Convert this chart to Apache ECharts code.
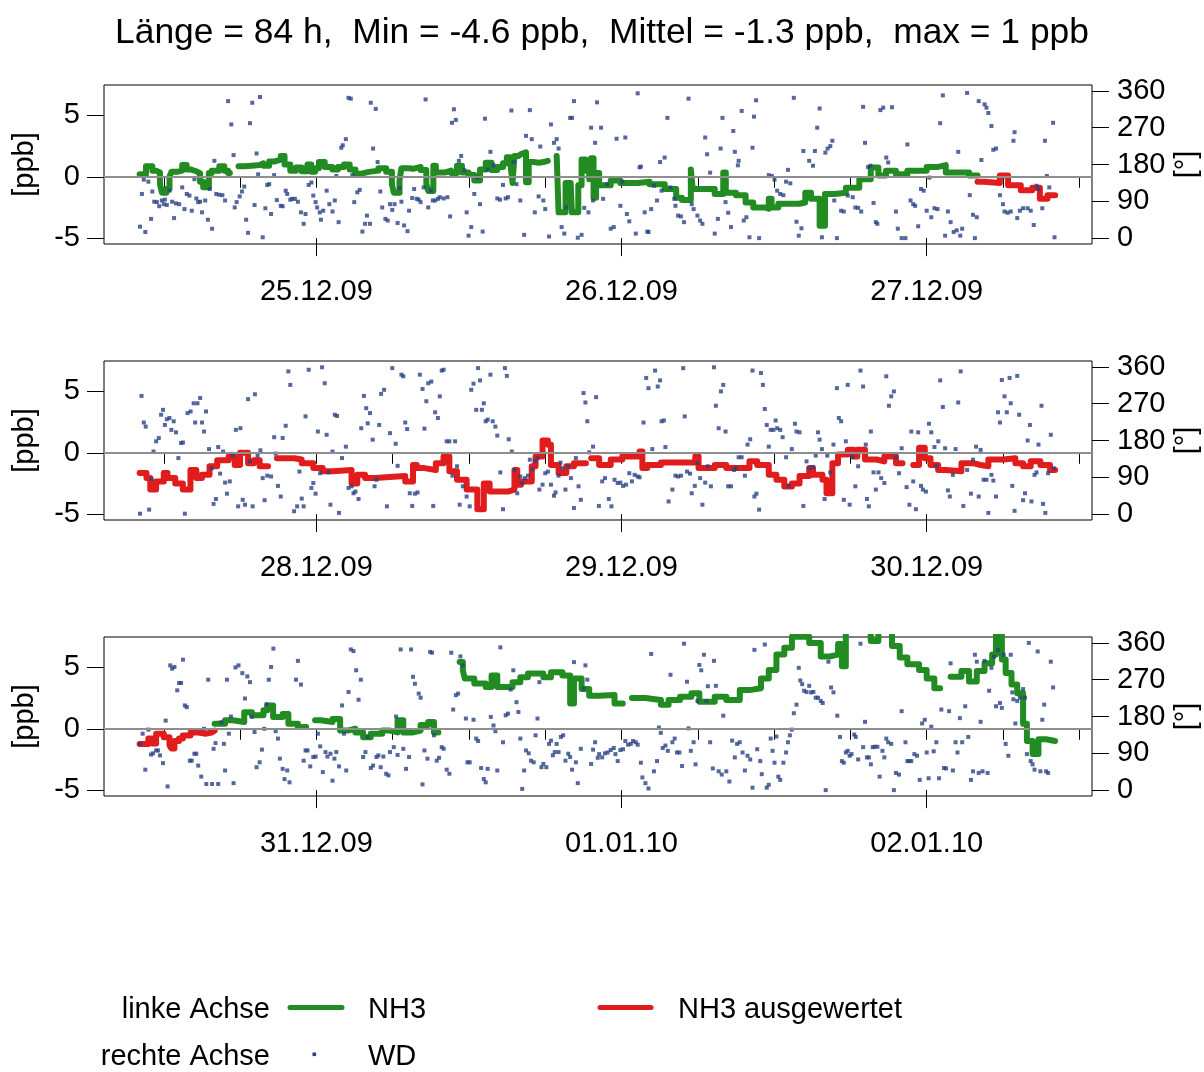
<!DOCTYPE html>
<html>
<head>
<meta charset="utf-8">
<script src="https://cdn.jsdelivr.net/npm/echarts@6/dist/echarts.min.js"></script>
<style>
html, body { margin: 0; padding: 0; background: #ffffff; }
#chart { width: 1204px; height: 1072px; }
</style>
</head>
<body>
<div id="chart"></div>
<script>
// Hours are counted from 00:00 of the first day of each panel (24.12.09, 27.12.09, 30.12.09).
const titleText = 'Länge = 84 h,  Min = -4.6 ppb,  Mittel = -1.3 ppb,  max = 1 ppb';
const hourTicks = [12, 18, 24, 30, 36, 42, 48, 54, 60, 66, 72, 78, 84];
const dayTicks = [24, 48, 72];
const dayLabels = [
  ['25.12.09', '26.12.09', '27.12.09'],
  ['28.12.09', '29.12.09', '30.12.09'],
  ['31.12.09', '01.01.10', '02.01.10']
];
const nh3Ticks = [-5, 0, 5];
const wdTicks = [0, 90, 180, 270, 360];

// Span of each panel that belongs to the evaluated NH3 record ("NH3 ausgewertet")
const evalRanges = [[76, 82.1], [10, 82.1], [10, 16]];

// NH3 [ppb] as steps: [hour, value] holds until the next entry; null starts a gap
const nh3_1 = [
  [10.1,0.2],[10.6,0.85],[11.1,0.5],[11.4,0.35],[11.7,-0.6],[11.85,-1.3],[12.2,-1.0],[12.45,0.0],[12.6,0.4],
  [13.05,0.5],[13.45,0.95],[13.8,0.6],[14.1,0.45],[14.55,0.3],[14.85,-0.4],[15.1,-0.85],[15.55,0.3],[15.77,0.5],
  [16.37,0.85],[16.76,0.5],[17.06,0.3],[17.2,null],
  [17.88,0.85],[18.33,0.9],[18.93,0.95],[19.54,1.1],[19.84,0.9],[20.29,1.25],[20.74,1.4],[21.2,1.7],[21.5,1.0],
  [21.95,0.5],[22.4,0.75],[22.85,0.45],[23.3,1.0],[23.6,0.4],[23.9,0.7],[24.2,1.2],[24.66,0.8],[25.26,0.6],
  [25.7,0.8],[26.17,1.0],[26.62,0.6],[27.07,0.25],[27.53,0.4],[28.13,0.5],[28.88,0.7],[29.49,0.4],[29.94,-0.6],
  [30.09,-1.3],[30.54,-0.3],[30.69,0.7],[31.29,0.65],[31.6,0.8],[32.2,0.55],[32.65,-0.6],[32.8,-1.15],[33.2,0.9],
  [33.4,0.35],[34.16,0.5],[34.6,0.3],[35.06,0.9],[35.45,0.35],[35.97,0.15],[36.42,-0.3],[36.87,0.6],[37.32,1.15],
  [37.78,0.55],[38.23,0.8],[38.68,1.1],[38.98,1.6],[39.28,0.9],[39.43,-0.5],[39.58,1.7],[39.89,1.85],[40.1,2.0],
  [40.49,-0.45],[40.7,1.2],[41.1,1.15],[41.5,1.2],[41.85,1.3],[42.2,null],
  [42.9,1.7],[43.05,-2.9],[43.6,-0.5],[44.0,-0.4],[44.1,-2.9],[44.6,-0.7],[44.86,1.4],[45.16,0.5],[45.46,-0.2],
  [45.6,1.5],[45.8,-1.7],[46.0,0.3],[46.24,-0.7],[47.15,-0.3],[47.9,-0.5],[49.27,-0.4],[50.2,-0.6],[51.4,-1.0],
  [52.3,-1.7],[52.75,-1.9],[53.45,0.6],[53.6,-1.0],[55.33,-1.4],[56.0,0.35],[56.2,-1.3],[57.0,-1.5],[57.76,-2.1],
  [58.36,-2.5],[59.27,-2.6],[59.58,-1.8],[59.8,-2.5],[60.33,-2.2],[61.97,-2.1],[62.45,-1.3],[62.9,-1.8],[63.58,-4.0],
  [64.0,-1.4],[64.73,-1.3],[65.64,-0.9],[66.7,-0.2],[67.6,0.75],[68.2,0.1],[68.8,0.5],[69.58,0.2],[70.48,0.5],
  [72.0,0.8],[72.9,0.95],[73.5,0.35],[75.33,0.1],[76.0,-0.4],[76.5,-0.5],[77.75,0.1],[78.4,-0.7],[79.4,-1.1],
  [80.3,-0.9],[80.9,-1.8],[81.5,-1.5],[82.1,null]
];
const nh3_2 = [
  [10.1,-1.65],[10.64,-2.05],[10.94,-3.0],[11.4,-2.35],[12.0,-1.65],[12.3,-2.05],[12.9,-2.5],[13.5,-3.0],[14.1,-1.4],
  [14.56,-2.05],[15.0,-1.8],[15.6,-1.1],[16.2,-0.6],[17.1,-0.3],[17.58,-1.0],[18.0,0.0],[18.63,-0.85],[19.08,-0.6],
  [19.54,-1.1],[20.2,null],
  [20.9,-0.45],[22.25,-0.55],[22.85,-0.85],[23.76,-1.25],[24.5,-1.5],[25.27,-1.4],[26.77,-2.5],[27.22,-1.8],
  [27.83,-2.05],[28.58,-1.9],[30.99,-2.35],[31.6,-1.0],[31.9,-1.25],[32.5,-1.4],[33.4,-0.85],[34.0,-0.3],[34.46,-1.5],
  [35.06,-2.2],[35.82,-3.0],[36.66,-4.6],[37.17,-2.5],[37.63,-3.15],[39.13,-3.0],[39.58,-1.4],[39.8,-2.6],[40.1,-2.35],
  [40.94,-1.1],[41.24,-0.3],[41.79,1.0],[42.21,0.65],[42.45,-1.0],[43.05,-1.65],[43.66,-1.1],[44.26,-0.85],[45.2,null],
  [45.61,-0.45],[46.24,-1.0],[47.15,-0.55],[48.06,-0.3],[49.42,0.1],[49.64,-1.25],[50.03,-1.0],[51.1,-0.8],[53.8,-0.3],
  [54.06,-1.25],[55.33,-1.0],[56.24,-1.25],[58.06,-0.7],[58.67,-1.0],[59.58,-1.8],[60.18,-2.2],[60.8,-2.75],[61.4,-2.5],
  [62.0,-1.9],[62.76,-1.25],[63.06,-1.8],[63.8,-2.2],[64.12,-3.3],[64.58,-0.85],[65.03,-0.15],[65.8,0.25],[66.24,-0.3],
  [66.55,0.25],[67.15,-0.55],[68.06,-0.7],[68.67,-0.3],[69.58,-0.85],[70.1,null],
  [70.94,-1.0],[71.4,0.4],[71.85,-0.45],[72.3,-1.0],[72.9,-1.4],[73.5,-1.5],[74.73,-0.85],[75.64,-1.0],[76.24,-1.1],
  [76.85,-0.55],[78.06,-0.45],[78.97,-0.85],[79.58,-1.1],[80.18,-0.7],[80.94,-1.0],[81.7,-1.4],[82.1,null]
];
const nh3_3 = [
  [10.1,-1.25],[10.79,-0.8],[11.1,-1.2],[11.4,-0.4],[12.0,-0.7],[12.45,-1.35],[12.6,-1.6],[12.84,-1.0],[13.2,-0.8],
  [13.5,-0.55],[14.1,-0.3],[14.71,-0.4],[15.32,-0.3],[15.77,-0.15],[16.0,0.4],[16.82,0.7],[17.43,0.55],[18.33,1.35],
  [18.93,1.1],[19.84,1.5],[20.14,1.9],[20.6,0.95],[21.35,1.2],[21.8,0.4],[22.55,0.15],[23.2,null],
  [23.9,0.7],[24.36,0.55],[25.27,0.8],[25.87,-0.15],[26.47,0.0],[27.07,-0.3],[27.68,-0.7],[28.28,-0.4],[29.18,-0.15],
  [29.79,-0.3],[30.39,0.7],[30.84,-0.3],[31.6,-0.15],[32.2,0.3],[32.8,0.55],[33.25,-0.3],[33.6,null],
  [35.27,5.45],[35.52,4.75],[35.67,4.1],[36.42,3.7],[37.32,3.4],[37.78,4.35],[38.23,3.4],[39.43,3.8],[40.04,4.2],
  [40.64,4.5],[41.85,4.2],[42.45,4.6],[43.35,4.35],[43.96,2.05],[44.26,4.1],[44.86,3.25],[45.46,2.7],[46.24,2.75],
  [47.45,2.05],[48.1,null],
  [48.82,2.5],[49.88,2.35],[51.1,1.95],[51.7,2.35],[52.6,2.6],[53.5,2.9],[54.12,2.2],[55.33,2.6],[56.24,2.35],
  [57.3,3.15],[58.06,3.3],[58.97,4.1],[59.58,4.8],[60.18,6.05],[60.8,6.6],[61.4,7.5],[62.76,7.0],[63.67,5.9],
  [64.42,6.05],[65.03,6.9],[65.33,5.1],[65.64,8.5],[67.6,7.15],[68.2,8.5],[69.27,6.75],[69.88,5.8],[70.48,5.25],
  [71.4,4.8],[72.0,4.1],[72.6,3.3],[73.06,null],
  [73.88,4.25],[74.73,4.7],[75.33,3.85],[75.94,4.7],[76.55,5.35],[77.15,6.05],[77.45,8.0],[77.91,5.65],[78.21,4.55],
  [78.67,3.6],[79.12,2.9],[79.58,0.4],[79.88,-1.0],[80.33,-2.05],[80.79,-0.85],[81.39,-1.0],[82.1,null]
];

// Wind direction [°]: [hour, degrees]
const wd_1 = [
  [10.13,28],[10.28,108],[10.43,143],[10.55,15],[10.79,138],[11.0,47],[11.1,114],[11.25,89],[11.46,88],[11.64,78],
  [11.85,92],[12.0,83],[12.09,94],[12.24,81],[12.45,116],[12.66,89],[12.81,49],[12.96,85],[13.21,83],[13.45,124],
  [13.63,71],[13.81,108],[14.02,104],[14.2,67],[14.41,144],[14.56,97],[14.71,88],[14.86,89],[15.01,63],[15.26,92],
  [15.47,45],[15.62,120],[15.8,23],[15.98,189],[16.13,108],[16.37,106],[16.61,105],[16.82,92],[17.06,335],[17.31,278],
  [17.49,203],[17.58,75],[17.73,88],[17.97,102],[18.15,114],[18.33,126],[18.48,45],[18.63,13],[18.78,281],[18.96,331],
  [19.14,81],[19.3,207],[19.42,156],[19.57,345],[19.78,2],[19.99,73],[20.14,130],[20.29,132],[20.44,59],[20.68,154],
  [20.89,93],[21.2,79],[21.35,78],[21.59,116],[21.71,108],[21.95,94],[22.1,96],[22.31,96],[22.55,89],[22.79,63],
  [23.0,35],[23.15,59],[23.4,130],[23.61,136],[23.76,104],[23.94,88],[24.06,75],[24.27,63],[24.36,45],[24.54,67],
  [24.81,116],[25.02,83],[25.27,65],[25.45,92],[25.57,152],[25.75,39],[25.96,221],[26.08,227],[26.32,242],[26.53,343],
  [26.71,341],[26.83,154],[26.98,88],[27.22,112],[27.41,118],[27.62,16],[27.83,35],[27.98,55],[28.22,35],[28.28,331],
  [28.46,219],[28.67,316],[28.82,186],[29.03,114],[29.18,75],[29.43,47],[29.61,43],[29.79,83],[29.97,69],[30.15,83],
  [30.39,37],[30.54,122],[30.69,89],[30.9,31],[31.17,17],[31.29,67],[31.54,98],[31.69,120],[31.9,96],[32.05,94],
  [32.2,88],[32.44,124],[32.59,339],[32.8,75],[33.01,116],[33.16,92],[33.34,92],[33.56,96],[33.71,100],[34.01,97],
  [34.31,100],[34.52,53],[34.67,282],[34.82,315],[34.97,289],[35.21,189],[35.39,201],[35.64,166],[35.82,63],[35.97,6],
  [36.18,27],[36.42,108],[36.66,148],[36.87,83],[37.08,16],[37.26,292],[37.47,167],[37.69,211],[37.93,178],[38.23,97],
  [38.44,94],[38.68,130],[38.89,97],[39.07,100],[39.34,312],[39.52,186],[39.74,132],[40.04,92],[40.34,8],[40.49,250],
  [40.79,313],[40.94,242],[41.18,63],[41.48,102],[41.61,224],[41.85,92],[42.0,71],[42.3,4],[42.45,278],[42.69,233],
  [42.9,242],[43.05,219],[43.29,27],[43.5,11],[43.66,75],[43.96,294],[44.11,294],[44.26,335],[44.56,1],[44.86,8],
  [45.07,74],[45.4,63],[45.61,270],[45.76,92],[45.92,233],[46.07,332],
  [46.39,270],[46.55,96],[46.85,132],[47.15,23],[47.39,27],[47.61,243],[47.91,79],[48.06,138],[48.3,246],[48.42,59],
  [48.61,41],[49.12,11],[49.27,354],[49.42,173],[49.52,175],[49.82,63],[50.03,16],[50.12,15],[50.33,71],[50.55,128],
  [50.79,92],[51.03,186],[51.15,116],[51.39,197],[51.61,294],[51.85,124],[52.15,96],[52.24,79],[52.45,55],[52.67,53],
  [52.91,39],[53.27,341],[53.52,83],[53.67,71],[53.97,55],[54.18,43],[54.36,35],[54.58,246],[54.73,205],[54.97,160],
  [55.33,11],[55.58,47],[55.79,219],[55.94,294],[56.18,88],[56.39,62],[56.61,27],[56.79,262],[56.91,211],[57.15,178],
  [57.21,189],[57.45,311],[57.61,43],[57.82,51],[58.06,2],[58.3,221],[58.42,297],[58.58,337],[58.82,0],[59.58,154],
  [59.82,152],[60.03,143],[60.24,116],[60.48,108],[60.73,105],[60.94,138],[61.09,167],[61.27,134],[61.55,343],[61.76,40],
  [61.94,6],[62.15,24],[62.3,213],[62.76,189],[63.06,177],[63.21,213],[63.39,270],[63.58,317],[63.76,2],[64.03,209],
  [64.21,219],[64.42,225],[64.58,238],[64.73,92],[64.94,0],[65.27,67],[65.48,65],[65.79,104],[66.18,100],[66.39,75],
  [66.61,74],[66.85,65],[67.0,321],[67.15,233],[67.39,174],[67.58,177],[67.82,86],[68.0,39],[68.12,35],[68.36,313],
  [68.58,319],[68.82,197],[68.97,185],[69.27,320],[69.58,65],[69.73,23],[70.03,0],[70.33,0],[70.48,229],[70.73,92],
  [70.94,83],[71.09,79],[71.33,29],[71.55,120],[71.76,116],[72.0,67],[72.21,148],[72.36,51],[72.61,73],[72.85,71],
  [73.06,281],[73.27,349],[73.45,6],[73.67,65],[73.88,39],[74.12,15],[74.36,19],[74.48,211],[74.64,6],[74.79,23],
  [75.18,355],[75.39,105],[75.64,57],[75.79,0],[75.94,51],[76.09,335],[76.3,191],[76.55,327],[76.7,319],[76.85,306],
  [77.09,274],[77.24,216],[77.45,219],[77.76,105],[78.0,83],[78.12,65],[78.36,62],[78.61,65],[78.82,238],[78.91,259],
  [79.12,49],[79.33,67],[79.58,73],[79.94,73],[80.18,67],[80.42,32],[80.64,128],[80.79,120],[81.09,73],[81.3,238],
  [81.45,152],[81.64,124],[81.94,282],[82.05,2]
];
const wd_2 = [
  [10.13,1],[10.25,289],[10.43,224],[10.58,214],[10.85,11],[11.04,86],[11.19,153],[11.4,178],[11.61,186],[11.79,243],
  [11.94,255],[12.09,218],[12.24,232],[12.45,235],[12.6,206],[12.78,227],[12.96,200],[13.15,137],[13.36,174],[13.51,175],
  [13.66,1],[13.87,247],[14.11,251],[14.35,271],[14.47,224],[14.65,271],[14.86,284],[15.01,224],[15.17,202],[15.32,251],
  [15.56,159],[15.77,112],[15.92,25],[16.1,37],[16.28,164],[16.43,99],[16.67,153],[16.82,77],[16.97,50],[17.19,80],
  [17.43,143],[17.67,206],[17.85,19],[18.03,210],[18.21,35],[18.39,23],[18.63,281],[18.78,129],[18.99,19],[19.17,293],
  [19.38,143],[19.6,156],[19.78,88],[19.93,34],[20.14,94],[20.44,92],[20.68,188],[20.8,148],[20.98,69],[21.2,43],
  [21.35,186],[21.59,216],[21.8,349],[21.95,316],[22.25,7],[22.49,19],[22.67,104],[22.85,38],[23.0,19],[23.15,239],
  [23.4,353],[23.61,64],[23.76,76],[23.94,50],[24.12,202],[24.3,100],[24.45,359],[24.66,320],[24.81,194],[24.96,102],
  [25.11,23],[25.27,153],[25.45,243],[25.63,240],[25.78,3],[26.02,137],[26.32,165],[26.53,64],[26.77,68],[26.92,51],
  [27.07,55],[27.32,37],[27.53,210],[27.74,289],[27.92,259],[28.04,222],[28.22,247],[28.43,182],[28.58,68],[28.73,84],
  [28.94,218],[29.09,294],[29.33,304],[29.55,19],[29.79,198],[29.97,357],[30.24,172],[30.39,118],[30.69,341],[30.84,337],
  [30.99,224],[31.14,208],[31.35,51],[31.54,20],[31.75,50],[31.96,53],[32.14,341],[32.35,306],[32.5,209],[32.65,276],
  [32.8,320],[33.04,324],[33.19,20],[33.34,249],[33.56,235],[33.71,288],[33.86,351],[34.01,353],[34.25,178],[34.46,178],
  [34.7,94],[34.91,178],[35.06,117],[35.27,23],[35.52,68],[35.82,43],[36.06,19],[36.18,304],[36.36,319],[36.57,255],
  [36.72,357],[36.87,327],[37.02,255],[37.17,271],[37.32,227],[37.47,231],[37.69,341],[37.87,227],[38.08,214],[38.23,192],
  [38.47,102],[38.68,12],[38.83,357],[38.98,338],[39.13,183],[39.37,153],[39.58,108],[39.8,51],[40.04,92],[40.19,76],
  [40.4,88],[40.64,94],[40.79,133],[41.0,110],[41.18,129],[41.39,137],[41.54,60],[41.79,72],[42.0,100],[42.21,104],
  [42.45,72],[42.69,45],[42.81,53],[43.05,94],[43.2,126],[43.35,112],[43.59,60],[43.81,117],[44.02,88],[44.26,15],
  [44.41,137],[44.62,68],[44.8,35],[45.01,296],[45.16,273],[45.31,227],[45.46,151],[45.76,165],[46.0,286],[46.22,20],
  [46.48,80],[46.7,88],[47.0,37],[47.21,19],[47.45,84],[47.7,76],[47.91,77],[48.12,69],[48.36,72],[48.61,100],
  [48.82,80],[49.03,96],[49.27,92],[49.42,90],[49.73,224],[49.94,333],[50.12,308],[50.42,159],[50.64,351],[50.85,312],
  [51.03,327],[51.15,227],[51.33,229],[51.45,164],[51.7,31],[52.0,60],[52.24,94],[52.45,92],[52.67,94],[52.85,357],
  [52.97,239],[53.15,104],[53.39,99],[53.52,51],[53.76,69],[53.97,125],[54.18,88],[54.36,23],[54.58,77],[54.79,117],
  [55.03,68],[55.27,359],[55.42,265],[55.64,210],[55.82,300],[56.0,316],[56.18,202],[56.39,68],[56.61,68],[56.85,108],
  [57.0,112],[57.21,139],[57.45,139],[57.7,94],[57.91,170],[58.12,183],[58.3,351],[58.45,43],[58.61,50],[58.82,11],
  [58.97,345],[59.12,316],[59.27,257],[59.42,218],[59.58,165],[59.73,206],[59.94,206],[60.12,229],[60.24,210],[60.48,206],
  [60.67,188],[60.94,139],[61.15,69],[61.39,159],[61.64,221],[61.76,202],[62.0,200],[62.3,20],[62.55,129],[62.76,112],
  [63.06,115],[63.27,143],[63.45,200],[63.58,182],[63.76,159],[63.97,37],[64.18,143],[64.42,102],[64.67,170],[64.94,308],
  [65.09,235],[65.27,227],[65.48,35],[65.64,178],[65.79,316],[65.94,23],[66.18,139],[66.39,68],[66.61,117],[66.79,351],
  [67.0,312],[67.21,170],[67.3,37],[67.45,19],[67.61,202],[67.82,102],[68.0,60],[68.21,102],[68.42,88],[68.67,76],
  [68.82,337],[69.03,265],[69.21,288],[69.42,300],[69.58,139],[69.82,100],[70.03,161],[70.42,66],[70.64,23],[70.79,202],
  [70.94,80],[71.15,12],[71.33,200],[71.55,69],[71.7,60],[71.94,55],[72.18,221],[72.36,200],[72.61,164],[72.76,117],
  [72.91,178],[73.06,327],[73.27,262],[73.45,161],[73.67,58],[73.82,43],[74.06,96],[74.27,159],[74.48,273],[74.67,349],
  [74.88,20],[75.18,108],[75.48,50],[75.64,133],[75.88,165],[76.09,43],[76.24,157],[76.48,84],[76.7,84],[76.85,3],
  [77.09,96],[77.24,82],[77.45,43],[77.61,249],[77.76,224],[77.91,328],[78.12,288],[78.3,249],[78.52,333],[78.61,271],
  [78.73,69],[78.91,8],[79.12,338],[79.27,243],[79.58,34],[79.73,51],[79.94,180],[80.12,218],[80.24,31],[80.48,96],
  [80.64,102],[80.79,170],[81.03,265],[81.15,25],[81.33,3],[81.55,100],[81.76,194],[82.0,112]
];
const wd_3 = [
  [10.13,113],[10.34,138],[10.55,50],[10.79,148],[11.0,87],[11.16,90],[11.4,97],[11.55,97],[11.7,85],[11.94,66],
  [12.15,170],[12.3,9],[12.51,305],[12.66,297],[12.84,301],[13.06,244],[13.21,262],[13.36,262],[13.51,319],[13.66,207],
  [13.81,203],[14.05,72],[14.2,72],[14.41,89],[14.56,89],[14.71,60],[14.95,33],[15.16,150],[15.35,15],[15.5,270],
  [15.8,15],[15.92,101],[16.07,115],[16.28,15],[16.52,166],[16.73,113],[16.82,48],[16.97,270],[17.12,138],[17.28,180],
  [17.49,17],[17.64,300],[17.88,305],[18.18,286],[18.39,224],[18.57,278],[18.78,264],[18.93,179],[19.14,142],[19.3,56],
  [19.54,68],[19.72,99],[19.9,150],[20.08,210],[20.26,270],[20.44,301],[20.62,346],[20.8,144],[20.98,126],[21.13,77],
  [21.35,52],[21.5,27],[21.71,48],[21.89,19],[22.4,270],[22.55,316],[22.79,258],[23.0,72],[23.15,97],[23.31,97],
  [23.52,58],[23.76,81],[23.94,82],[24.12,138],[24.3,107],[24.51,44],[24.72,93],[24.87,82],[25.11,89],[25.27,23],
  [25.42,77],[25.57,93],[25.78,58],[26.02,207],[26.17,138],[26.35,48],[26.53,240],[26.71,344],[26.92,340],[27.13,293],
  [27.32,221],[27.5,270],[27.68,81],[27.86,93],[28.04,130],[28.28,54],[28.46,60],[28.73,81],[28.88,85],[29.06,56],
  [29.27,82],[29.49,40],[29.67,36],[29.79,93],[30.09,105],[30.27,180],[30.39,86],[30.63,344],[30.84,101],[31.05,52],
  [31.29,81],[31.45,344],[31.6,277],[31.75,260],[32.05,236],[32.2,226],[32.35,14],[32.5,97],[32.74,77],[32.95,338],
  [33.1,336],[33.25,134],[33.47,72],[33.65,79],[33.86,105],[34.01,101],[34.25,50],[34.46,40],[34.61,336],[34.76,197],
  [34.97,232],[35.15,236],[35.33,327],[35.52,305],[35.76,175],[35.88,68],[36.06,68],[36.36,172],[36.57,126],[36.72,120],
  [36.96,54],[37.17,27],[37.32,19],[37.47,52],[37.72,179],[37.93,158],[38.08,144],[38.23,48],[38.47,349],[38.68,117],
  [38.89,183],[39.07,187],[39.28,246],[39.49,293],[39.74,215],[39.89,191],[40.04,126],[40.19,3],[40.34,48],[40.49,97],
  [40.7,90],[40.88,72],[41.09,68],[41.24,134],[41.39,175],[41.54,264],[41.7,56],[41.85,64],[42.09,56],[42.3,113],
  [42.45,121],[42.6,85],[42.75,93],[42.9,113],[43.05,93],[43.23,130],[43.41,134],[43.59,72],[43.81,89],[43.96,81],
  [44.11,50],[44.26,313],[44.41,68],[44.56,17],[44.8,101],[45.01,248],[45.16,305],[45.31,270],[45.61,64],[45.76,99],
  [45.92,117],[46.13,79],
  [46.24,88],[46.48,80],[46.7,90],[46.91,92],[47.15,98],[47.39,103],[47.52,88],[47.7,71],[47.91,98],[48.12,100],
  [48.3,120],[48.52,111],[48.73,113],[48.91,120],[49.12,117],[49.27,111],[49.52,67],[49.64,31],[49.88,17],[50.12,4],
  [50.33,333],[50.55,46],[50.79,71],[50.94,153],[51.09,140],[51.24,103],[51.45,109],[51.64,96],[51.85,282],[52.0,117],
  [52.18,126],[52.36,92],[52.55,92],[52.76,59],[52.91,358],[53.15,265],[53.27,151],[53.45,96],[53.67,117],[53.82,63],
  [53.97,218],[54.12,306],[54.27,293],[54.48,331],[54.67,218],[54.79,254],[54.97,117],[55.18,53],[55.27,316],[55.42,255],
  [55.64,46],[55.88,38],[56.0,182],[56.24,46],[56.48,21],[56.7,121],[56.91,80],[57.09,113],[57.3,117],[57.52,92],
  [57.7,48],[57.91,84],[58.12,75],[58.3,6],[58.45,343],[58.67,100],[58.91,71],[59.03,39],[59.27,356],[59.42,6],
  [59.58,13],[59.73,126],[59.88,96],[60.03,67],[60.18,131],[60.33,33],[60.48,25],[60.73,67],[60.94,92],[61.09,117],
  [61.24,134],[61.39,148],[61.55,188],[61.76,209],[61.94,299],[62.06,268],[62.21,259],[62.36,243],[62.55,240],[62.76,255],
  [62.91,239],[63.09,240],[63.27,226],[63.45,226],[63.67,218],[63.82,213],[64.06,0],[64.27,314],[64.48,251],[64.67,239],
  [64.97,182],[65.18,130],[65.33,71],[65.48,67],[65.64,92],[65.79,96],[65.94,84],[66.09,88],[66.3,136],[66.42,130],
  [66.61,75],[66.79,358],[67.0,105],[67.15,167],[67.3,80],[67.45,80],[67.61,63],[67.76,105],[67.91,106],[68.12,106],
  [68.3,33],[68.52,96],[68.67,80],[68.82,126],[68.97,117],[69.21,113],[69.42,0],[69.58,42],[69.82,38],[70.03,193],
  [70.33,117],[70.48,71],[70.64,71],[70.79,71],[71.03,88],[71.24,84],[71.45,25],[71.64,163],[71.85,172],[72.0,92],
  [72.15,29],[72.36,155],[72.55,95],[72.76,117],[72.97,29],[73.15,197],[73.36,54],[73.52,53],[73.76,193],[73.88,310],
  [74.06,48],[74.27,117],[74.42,92],[74.61,176],[74.79,117],[75.03,205],[75.27,130],[75.48,25],[75.64,46],[75.79,331],
  [75.94,314],[76.09,42],[76.24,167],[76.39,46],[76.55,316],[76.79,42],[76.91,243],[77.09,299],[77.3,326],[77.45,205],
  [77.61,343],[77.76,213],[77.91,201],[78.06,331],[78.21,113],[78.42,84],[78.61,331],[78.73,239],[78.82,222],[78.97,163],
  [79.12,218],[79.33,226],[79.58,247],[79.73,226],[79.88,88],[80.03,360],[80.18,71],[80.33,63],[80.48,50],[80.73,339],
  [80.94,46],[81.09,172],[81.24,209],[81.39,46],[81.55,42],[81.76,314],[81.94,251]
];

const nh3Panels = [nh3_1, nh3_2, nh3_3];
const wdPanels = [wd_1, wd_2, wd_3];

// colours and layout
const GREEN = '#228b22';
const RED = '#e01c1c';
const BLUE = '#2a4284';
const FONT = 'Liberation Sans, Arial, sans-serif';
const GRID_LEFT = 104, GRID_WIDTH = 988, GRID_HEIGHT = 159;
const GRID_TOPS = [85, 361, 637];
const X_MIN = 7.3, X_MAX = 85.0;

// value of the step series in effect at hour h
function valueAt(arr, h) {
  let v = null;
  for (const [x, y] of arr) { if (x <= h) v = y; else break; }
  return v;
}
// turn step entries into drawable points: each plateau gets an explicit end before a gap
function expand(arr) {
  const out = [];
  for (const [h, v] of arr) {
    if (v === null) {
      if (out.length && out[out.length - 1][1] !== null) out.push([h, out[out.length - 1][1]]);
      out.push([h, null]);
    } else out.push([h, v]);
  }
  return out;
}
function plainPart(arr, a, b) {
  const raw = arr.filter(p => p[0] < a);
  raw.push([a, null]);
  const vb = valueAt(arr, b);
  if (vb !== null) raw.push([b, vb]);
  arr.filter(p => p[0] > b).forEach(p => raw.push(p));
  return expand(raw);
}
function evalPart(arr, a, b) {
  const raw = [];
  const va = valueAt(arr, a);
  if (va !== null) raw.push([a, va]);
  arr.filter(p => p[0] > a && p[0] < b).forEach(p => raw.push(p));
  raw.push([b, null]);
  return expand(raw);
}

const grids = [], xAxes = [], yAxes = [], series = [];
for (let i = 0; i < 3; i++) {
  grids.push({
    left: GRID_LEFT, width: GRID_WIDTH, top: GRID_TOPS[i], height: GRID_HEIGHT,
    show: true, borderColor: '#000', borderWidth: 1, backgroundColor: 'transparent'
  });
  // 6-hourly minor ticks
  xAxes.push({
    type: 'value', gridIndex: i, min: X_MIN, max: X_MAX, position: 'bottom',
    axisLine: { show: false }, splitLine: { show: false },
    axisTick: { show: true, customValues: hourTicks, length: 11, lineStyle: { color: '#000', width: 1 } },
    axisLabel: { show: false }
  });
  // midnight ticks with date labels
  const labels = dayLabels[i];
  xAxes.push({
    type: 'value', gridIndex: i, min: X_MIN, max: X_MAX, position: 'bottom',
    axisLine: { show: false }, splitLine: { show: false },
    axisTick: { show: true, customValues: dayTicks, length: 18, lineStyle: { color: '#000', width: 1 } },
    axisLabel: {
      show: true, customValues: dayTicks, margin: 33,
      formatter: v => labels[dayTicks.indexOf(Math.round(v))] || '',
      fontSize: 29, lineHeight: 29, fontFamily: FONT, color: '#000'
    }
  });
  yAxes.push({
    type: 'value', gridIndex: i, min: -5.48, max: 7.48, position: 'left',
    axisLine: { show: false }, splitLine: { show: false },
    axisTick: { show: true, customValues: nh3Ticks, length: 17, lineStyle: { color: '#000', width: 1 } },
    axisLabel: { show: true, customValues: nh3Ticks, margin: 24, fontSize: 29, fontFamily: FONT, color: '#000' }
  });
  yAxes.push({
    type: 'value', gridIndex: i, min: -14.4, max: 374.4, position: 'right',
    axisLine: { show: false }, splitLine: { show: false },
    axisTick: { show: true, customValues: wdTicks, length: 17, lineStyle: { color: '#000', width: 1 } },
    axisLabel: { show: true, customValues: wdTicks, margin: 25, fontSize: 29, fontFamily: FONT, color: '#000' }
  });

  const [a, b] = evalRanges[i];
  const nh3 = nh3Panels[i];
  // zero reference line
  series.push({
    type: 'line', xAxisIndex: 2 * i, yAxisIndex: 2 * i, data: [], z: 1, silent: true,
    markLine: {
      silent: true, symbol: ['none', 'none'], label: { show: false },
      lineStyle: { color: '#8e8e8e', width: 2, type: 'solid' },
      emphasis: { disabled: true },
      data: [{ yAxis: 0 }]
    }
  });
  series.push({
    name: 'NH3', type: 'line', step: 'end', xAxisIndex: 2 * i, yAxisIndex: 2 * i,
    data: plainPart(nh3, a, b), showSymbol: false, connectNulls: false, clip: true, z: 2,
    lineStyle: { color: GREEN, width: 6, cap: 'round', join: 'round' }
  });
  series.push({
    name: 'NH3 ausgewertet', type: 'line', step: 'end', xAxisIndex: 2 * i, yAxisIndex: 2 * i,
    data: evalPart(nh3, a, b), showSymbol: false, connectNulls: false, clip: true, z: 2,
    lineStyle: { color: RED, width: 6, cap: 'round', join: 'round' }
  });
  series.push({
    name: 'WD', type: 'scatter', xAxisIndex: 2 * i + 1, yAxisIndex: 2 * i + 1,
    data: wdPanels[i], symbol: 'rect', symbolSize: 4, z: 3,
    itemStyle: { color: BLUE }
  });
}

// axis titles and legend
const graphics = [];
for (let i = 0; i < 3; i++) {
  const cy = GRID_TOPS[i] + GRID_HEIGHT / 2;
  graphics.push({
    type: 'text', x: 25, y: cy, rotation: Math.PI / 2,
    style: { text: '[ppb]', fontSize: 29, fontFamily: FONT, fill: '#000', align: 'center', verticalAlign: 'middle' }
  });
  graphics.push({
    type: 'text', x: 1187, y: cy, rotation: Math.PI / 2,
    style: { text: '[°]', fontSize: 29, fontFamily: FONT, fill: '#000', align: 'center', verticalAlign: 'middle' }
  });
}
const legendText = (text, x, y, align) => ({
  type: 'text', x: x, y: y,
  style: { text: text, fontSize: 29, fontFamily: FONT, fill: '#000', align: align, verticalAlign: 'middle' }
});
graphics.push(legendText('linke Achse', 270, 1010, 'right'));
graphics.push({ type: 'line', shape: { x1: 290, y1: 1007.5, x2: 342, y2: 1007.5 },
  style: { stroke: GREEN, lineWidth: 5, lineCap: 'round' } });
graphics.push(legendText('NH3', 368, 1010, 'left'));
graphics.push({ type: 'line', shape: { x1: 600, y1: 1007.5, x2: 651, y2: 1007.5 },
  style: { stroke: RED, lineWidth: 5, lineCap: 'round' } });
graphics.push(legendText('NH3 ausgewertet', 678, 1010, 'left'));
graphics.push(legendText('rechte Achse', 270, 1057, 'right'));
graphics.push({ type: 'rect', shape: { x: 312.5, y: 1052.5, width: 3.6, height: 3.6 }, style: { fill: BLUE } });
graphics.push(legendText('WD', 368, 1057, 'left'));

const chart = echarts.init(document.getElementById('chart'), null, { renderer: 'canvas' });
chart.setOption({
  animation: false,
  backgroundColor: '#ffffff',
  title: {
    text: titleText, left: 'center', top: 11,
    textStyle: { fontSize: 35.4, fontWeight: 'normal', fontFamily: FONT, color: '#000' }
  },
  grid: grids,
  xAxis: xAxes,
  yAxis: yAxes,
  series: series,
  graphic: graphics
});
</script>
</body>
</html>
